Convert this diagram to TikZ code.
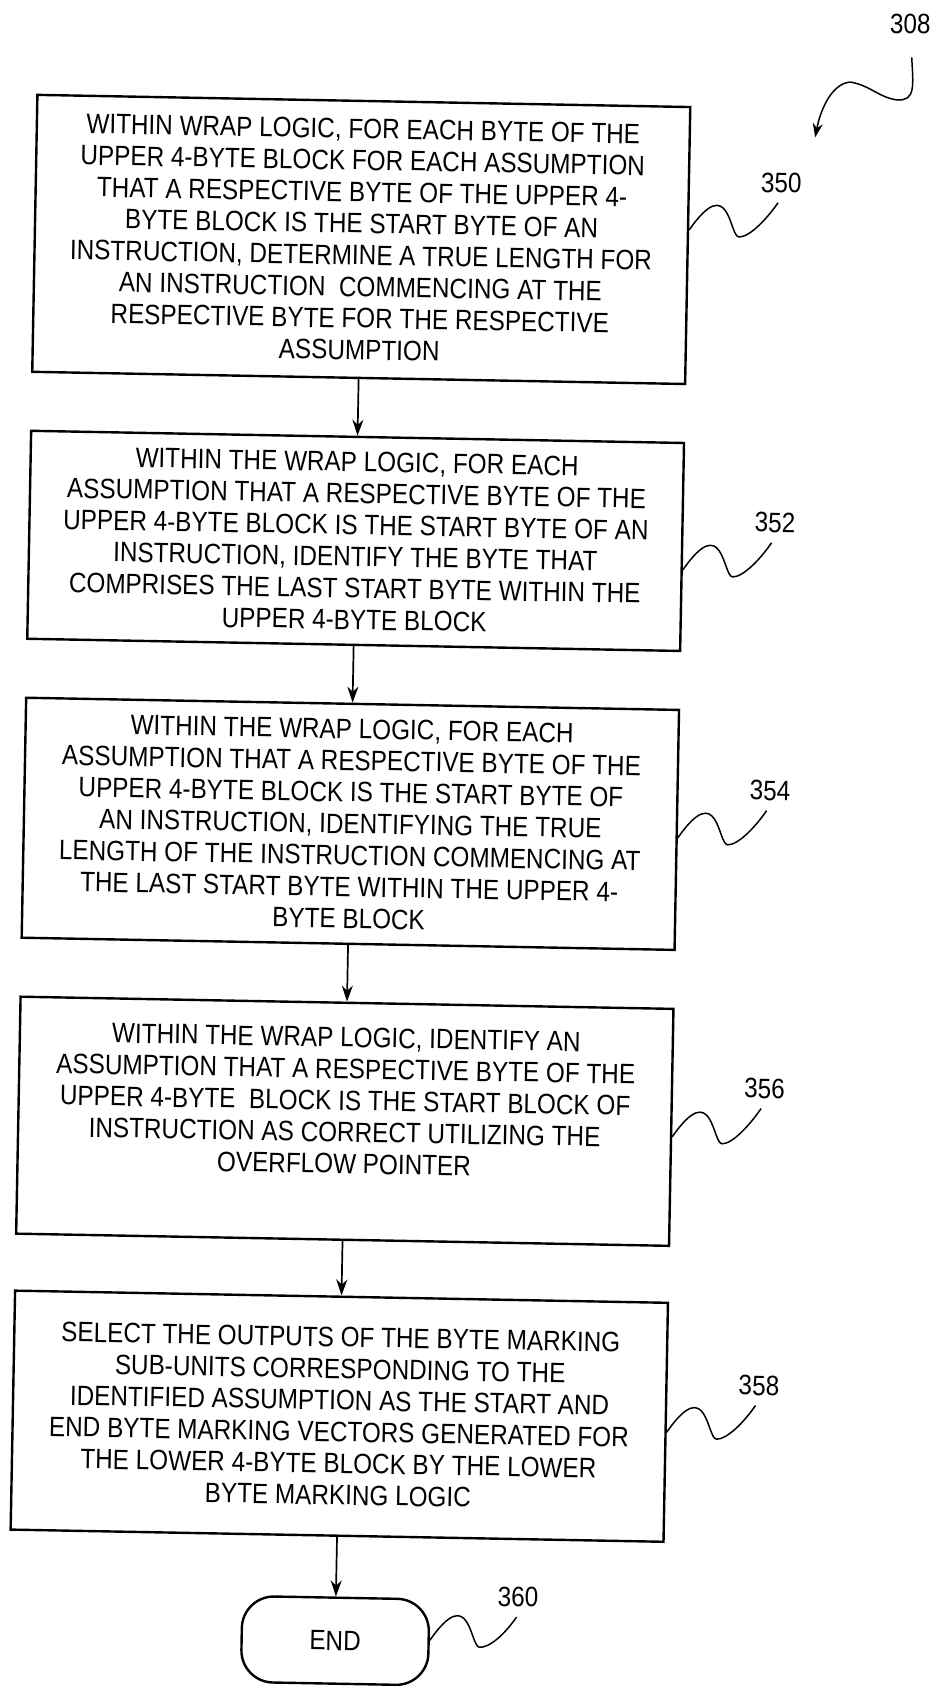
\documentclass[tikz,border=0pt]{standalone}
\usepackage{fontspec}
\setmainfont[FakeStretch=0.868]{Liberation Sans}
\usetikzlibrary{arrows.meta}

\tikzset{
  stepbox/.style={draw, line width=2.4pt, minimum width=653pt, inner sep=0pt, align=center,
                  font=\fontsize{28pt}{31.6pt}\selectfont},
  endbox/.style={draw, line width=2.4pt, rounded corners=32pt, minimum width=187pt,
                 minimum height=86pt, font=\fontsize{28pt}{31.6pt}\selectfont},
  refnum/.style={inner sep=0pt, font=\fontsize{28pt}{31.6pt}\selectfont},
  flow/.style={line width=1.7pt, -{Stealth[length=16pt,width=11pt]}},
  squig/.style={line width=1.5pt},
}

\begin{document}
\begin{tikzpicture}[x=1pt,y=1pt]
  \useasboundingbox (0,0) rectangle (935,-1686);
  % the whole sheet sits slightly turned
  \begin{scope}[rotate around={-1.07:(360,-843)}, transform shape]

    \node[stepbox, minimum height=277pt] (b1) at (350,-239.5) {WITHIN WRAP LOGIC, FOR EACH BYTE OF THE\\
      UPPER 4-BYTE BLOCK FOR EACH ASSUMPTION\\
      THAT A RESPECTIVE BYTE OF THE UPPER 4-\\
      BYTE BLOCK IS THE START BYTE OF AN\\
      INSTRUCTION, DETERMINE A TRUE LENGTH FOR\\
      AN INSTRUCTION\ \ COMMENCING AT THE\\
      RESPECTIVE BYTE FOR THE RESPECTIVE\\
      ASSUMPTION};
    \node[stepbox, minimum height=208pt] (b2) at (350,-541) {WITHIN THE WRAP LOGIC, FOR EACH\\
      ASSUMPTION THAT A RESPECTIVE BYTE OF THE\\
      UPPER 4-BYTE BLOCK IS THE START BYTE OF AN\\
      INSTRUCTION, IDENTIFY THE BYTE THAT\\
      COMPRISES THE LAST START BYTE WITHIN THE\\
      UPPER 4-BYTE BLOCK};
    \node[stepbox, minimum height=240pt] (b3) at (350,-824) {WITHIN THE WRAP LOGIC, FOR EACH\\
      ASSUMPTION THAT A RESPECTIVE BYTE OF THE\\
      UPPER 4-BYTE BLOCK IS THE START BYTE OF\\
      AN INSTRUCTION, IDENTIFYING THE TRUE\\
      LENGTH OF THE INSTRUCTION COMMENCING AT\\
      THE LAST START BYTE WITHIN THE UPPER 4-\\
      BYTE BLOCK};
    \node[stepbox, minimum height=237pt] (b4) at (350,-1121.5) {WITHIN THE WRAP LOGIC, IDENTIFY AN\\
      ASSUMPTION THAT A RESPECTIVE BYTE OF THE\\
      UPPER 4-BYTE\ \ BLOCK IS THE START BLOCK OF\\
      INSTRUCTION AS CORRECT UTILIZING THE\\
      OVERFLOW POINTER\\[10pt]};
    \node[stepbox, minimum height=239pt] (b5) at (350,-1416.5) {SELECT THE OUTPUTS OF THE BYTE MARKING\\
      SUB-UNITS CORRESPONDING TO THE\\
      IDENTIFIED ASSUMPTION AS THE START AND\\
      END BYTE MARKING VECTORS GENERATED FOR\\
      THE LOWER 4-BYTE BLOCK BY THE LOWER\\
      BYTE MARKING LOGIC};
    \node[endbox] (end) at (350,-1641) {END};

    \draw[flow] (b1) -- (b2);
    \draw[flow] (b2) -- (b3);
    \draw[flow] (b3) -- (b4);
    \draw[flow] (b4) -- (b5);
    \draw[flow] (b5) -- (end);

    % reference numerals
    \node[refnum] (l308) at (895,-14) {308};
    \node[refnum] (l350) at (769,-175) {350};
    \node[refnum] (l352) at (769,-515) {352};
    \node[refnum] (l354) at (769,-783) {354};
    \node[refnum] (l356) at (769,-1081) {356};
    \node[refnum] (l358) at (769,-1378) {358};
    \node[refnum] (l360) at (532,-1594) {360};

    \draw[squig] ([yshift=15.5pt]b1.east) .. controls +(40,60) and +(-10,0) .. ++(50,-6)
      .. controls +(10,0) and +(-12,-18) .. ([xshift=-3pt,yshift=-10pt]l350.south);
    \draw[squig] ([yshift=-23pt]b2.east) .. controls +(40,60) and +(-10,0) .. ++(50,-6)
      .. controls +(10,0) and +(-12,-18) .. ([xshift=-3pt,yshift=-10pt]l352.south);
    \draw[squig] ([yshift=-8pt]b3.east) .. controls +(40,60) and +(-10,0) .. ++(50,-6)
      .. controls +(10,0) and +(-12,-18) .. ([xshift=-3pt,yshift=-10pt]l354.south);
    \draw[squig] ([yshift=-9.5pt]b4.east) .. controls +(40,60) and +(-10,0) .. ++(50,-6)
      .. controls +(10,0) and +(-12,-18) .. ([xshift=-3pt,yshift=-10pt]l356.south);
    \draw[squig] ([yshift=-10pt]b5.east) .. controls +(40,60) and +(-10,0) .. ++(50,-6)
      .. controls +(10,0) and +(-12,-18) .. ([xshift=-3pt,yshift=-10pt]l358.south);
    \draw[squig] ([yshift=2pt]end.east) .. controls +(40,60) and +(-10,0) .. ++(50,-6)
      .. controls +(10,0) and +(-12,-18) .. ([xshift=-1pt,yshift=-10pt]l360.south);

    % leader of the figure number
    \coordinate (t308) at (802,-129);
    \draw[squig, -{Stealth[length=14pt,width=10pt]}] ([xshift=2pt,yshift=-23pt]l308.south)
      .. controls +(2,-28) and +(19,-1) .. (883,-90)
      .. controls +(-18,2) and +(20,-3) .. (836,-73)
      .. controls +(-20,-2) and +(4,24) .. (t308);
  \end{scope}
\end{tikzpicture}
\end{document}
